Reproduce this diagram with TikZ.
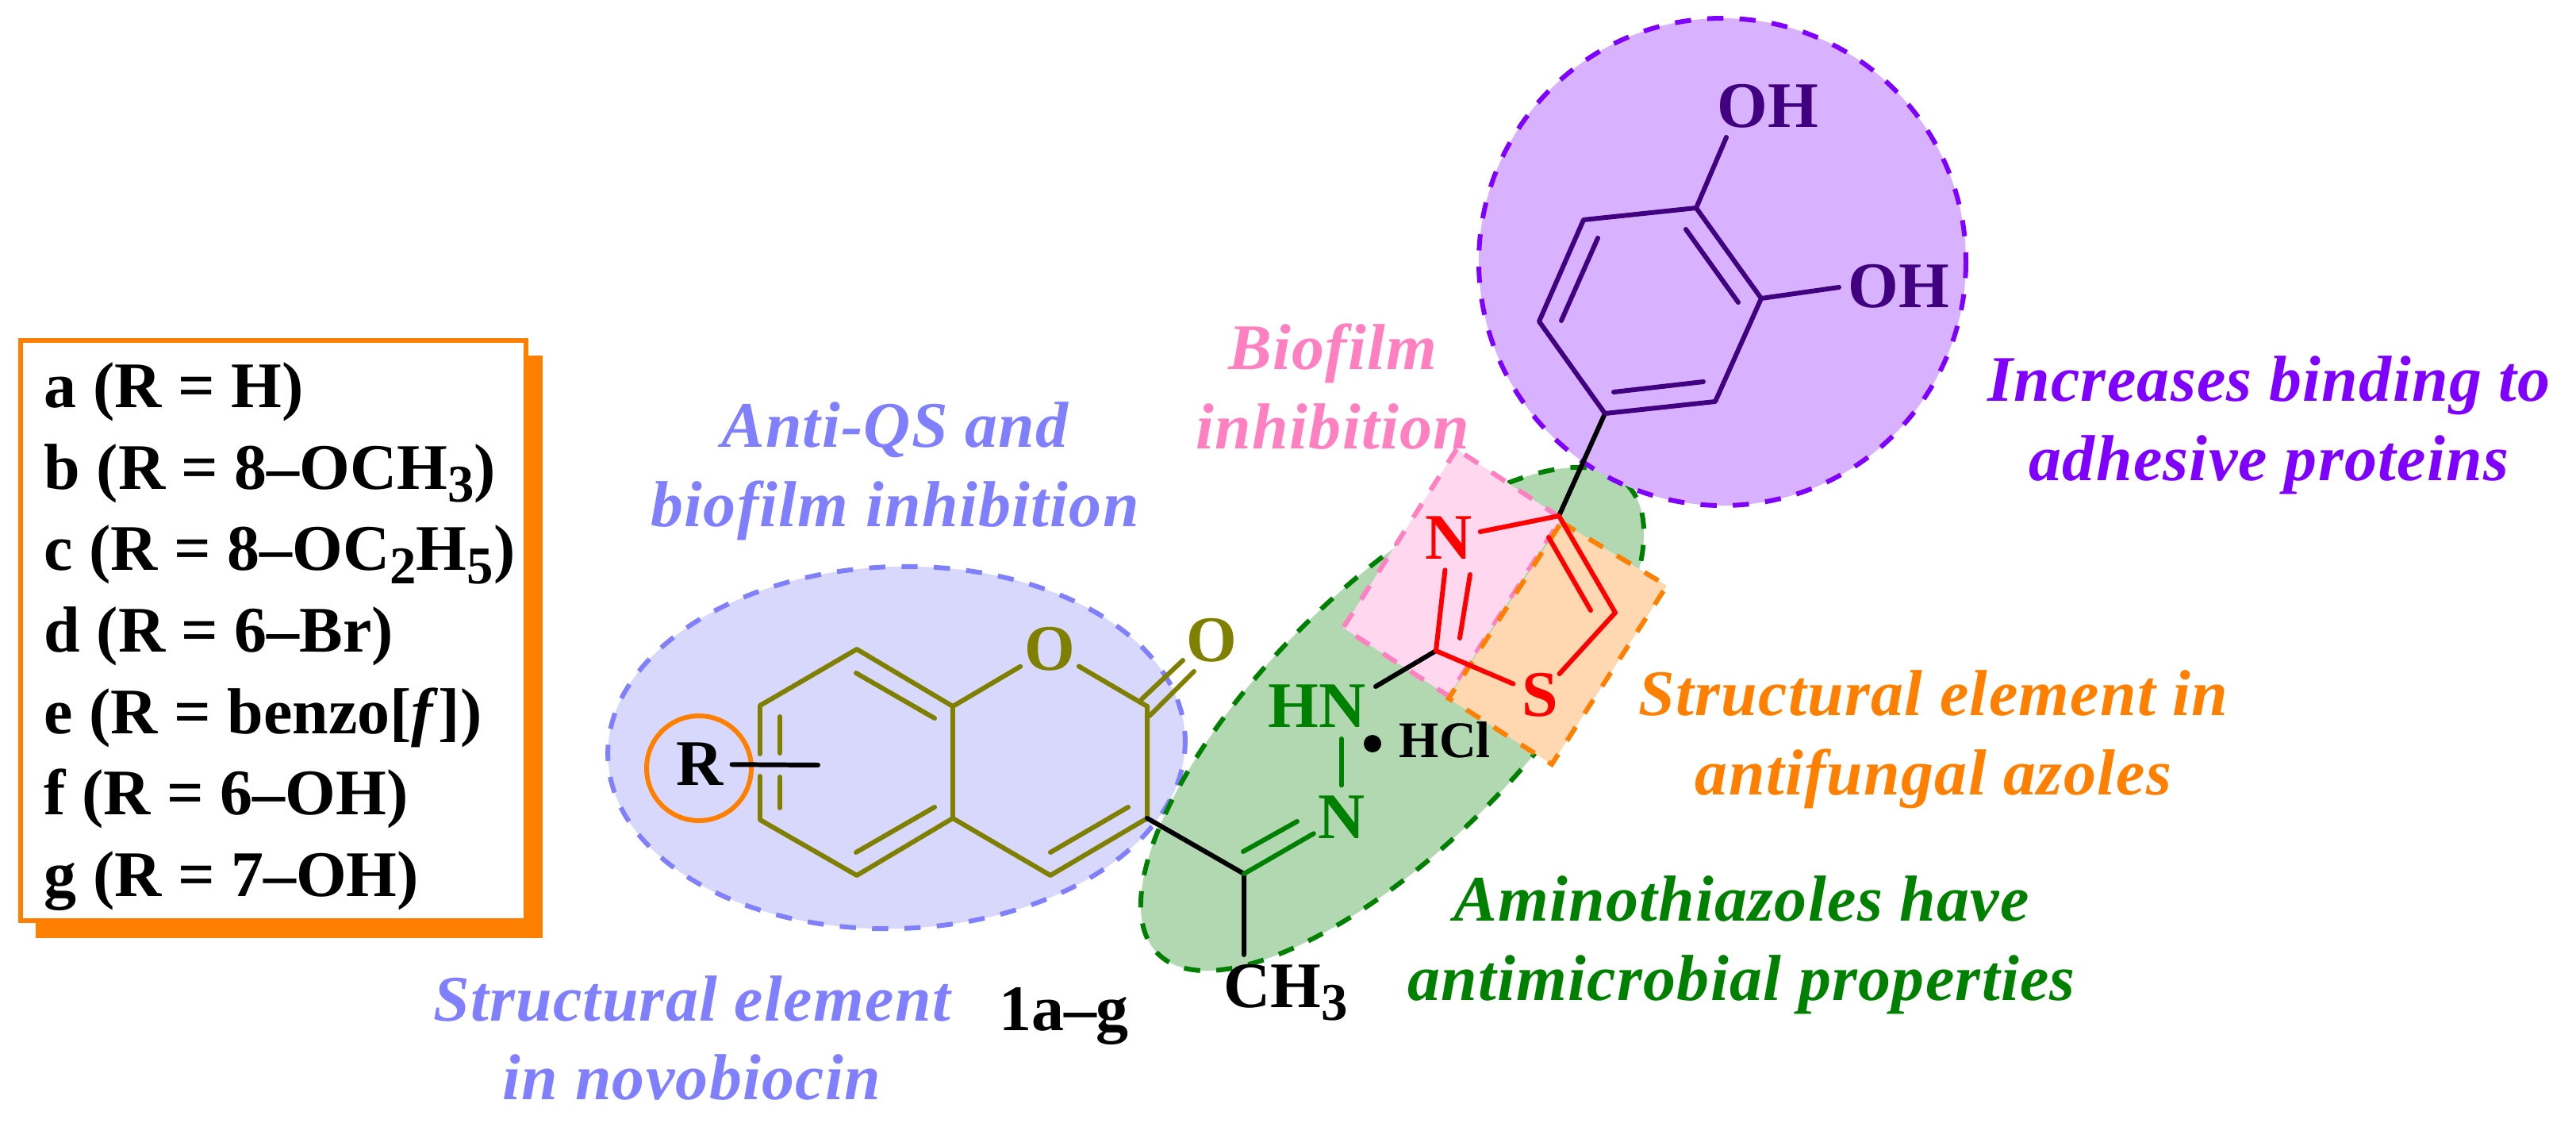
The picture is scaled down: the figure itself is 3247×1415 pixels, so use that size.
\documentclass[tikz,border=0pt]{standalone}
\usepackage{fontspec}
\setmainfont{Liberation Serif}
\usetikzlibrary{calc}
\definecolor{qsblue}{HTML}{8080FF}
\definecolor{qsfill}{HTML}{D8D8FC}
\definecolor{azgreen}{HTML}{008000}
\definecolor{azfill}{HTML}{B2D8B2}
\definecolor{bfpink}{HTML}{FF80C0}
\definecolor{bffill}{HTML}{FFD8EF}
\definecolor{fgorange}{HTML}{FF8000}
\definecolor{fgfill}{HTML}{FFD8B2}
\definecolor{adpurple}{HTML}{8000FF}
\definecolor{adfill}{HTML}{D8B2FF}
\definecolor{catechol}{HTML}{400080}
\definecolor{coumarin}{HTML}{808000}
\newcommand{\subnum}[1]{\raisebox{-0.2em}{\fontsize{19}{19}\selectfont #1}}
\tikzset{
    region/.style={line width=1.7pt,dash pattern=on 5.8pt off 5.8pt},
    bond/.style={line width=1.7pt,line cap=round,line join=round},
    atom/.style={circle,inner sep=0pt,font=\bfseries\fontsize{23.3}{28.3}\selectfont},
    molname/.style={inner sep=0pt,font=\bfseries\fontsize{23.3}{28.3}\selectfont},
    remark/.style={inner sep=0pt,align=center,font=\bfseries\itshape\fontsize{23.3}{28.3}\selectfont\addfontfeature{LetterSpace=1.6}}
}
\begin{document}
\begin{tikzpicture}[x=0.01cm,y=-0.01cm]
    \useasboundingbox (0,0) rectangle (3247,1415);
    \fill[fgorange] (45,448) rectangle (684,1182);
    \draw[fgorange,fill=white,line width=1.7pt] (26,429) rectangle (663,1160);
    \node[molname,anchor=west,align=left,font=\bfseries\fontsize{23.3}{29.2}\selectfont] (rlist) at (55,802) {a (R = H)\\
        b (R = 8–OCH\subnum{3})\\
        c (R = 8–OC\subnum{2}H\subnum{5})\\
        d (R = 6–Br)\\
        e (R = benzo[\textit{f}])\\
        f (R = 6–OH)\\
        g (R = 7–OH)};
    \draw[qsblue,fill=qsfill,region,rotate around={2:(1130,942)}] (1130,942) ellipse (364 and 228);
    \draw[azgreen,fill=azfill,region,rotate around={45:(1755,906)}] (1755,906) ellipse (418 and 162);
    \draw[adpurple,fill=adfill,region] (2171,330) circle (307);
    \coordinate (pk1) at (1836,566);
    \coordinate (pk2) at (1693,791);
    \coordinate (pk3) at (1826,877);
    \coordinate (pk4) at (1968,653);
    \coordinate (og1) at (1968,658);
    \coordinate (og2) at (2101,738);
    \coordinate (og3) at (1956,963);
    \coordinate (og4) at (1826,880);
    \draw[bfpink,fill=bffill,region] (pk1) -- (pk2) -- (pk3) -- (pk4) -- cycle;
    \draw[fgorange,fill=fgfill,region] (og1) -- (og2) -- (og3) -- (og4) -- cycle;
    \draw[fgorange,line width=1.7pt] (881,968) circle (66);
    \coordinate (c4a) at (1080,818);
    \coordinate (c8a) at (1201,890);
    \coordinate (c4b) at (1201,1031);
    \coordinate (c5) at (1080,1103);
    \coordinate (c6) at (958,1033);
    \coordinate (c7) at (958,889);
    \coordinate (c4) at (1324,1103);
    \coordinate (c3) at (1446,1031);
    \coordinate (c2) at (1446,890);
    \coordinate (c6t) at (958,950);
    \coordinate (c6b) at (958,978);
    \coordinate (rend) at (1031,964);
    \coordinate (imc) at (1568,1101);
    \coordinate (tzc2) at (1810,820);
    \coordinate (tzc4) at (1965,650);
    \coordinate (tzc5) at (2036,772);
    \coordinate (pha) at (2023,521);
    \coordinate (phb) at (2162,506);
    \coordinate (phc) at (2220,376);
    \coordinate (phd) at (2138,262);
    \coordinate (phe) at (1996,277);
    \coordinate (phf) at (1940,405);
    \coordinate (hnend) at (1734,865);
    \coordinate (hnlow) at (1691,931);
    \coordinate (meend) at (1568,1203);
    \coordinate (oh1end) at (2176,173);
    \coordinate (oh2end) at (2318,362);
    \coordinate (o2a) at (1491,832);
    \coordinate (o2b) at (1505,846);
    \coordinate (c2a) at (1439,881);
    \coordinate (c2b) at (1449,902);
    \node[atom,text=coumarin] (o1) at (1323,818) {O};
    \node[atom,text=coumarin] (o2) at (1527,807) {O};
    \node[atom] (rgroup) at (882,963) {R};
    \node[atom,text=red] (tzn) at (1826,678) {N};
    \node[atom,text=red] (tzs) at (1941,876) {S};
    \node[atom,text=azgreen] (imn) at (1691,1030) {N};
    \node[molname,text=azgreen,anchor=base west] (hn) at (1598,916) {HN};
    \node[molname,anchor=base west] (ch3) at (1542,1269) {CH\subnum{3}};
    \node[molname,text=catechol,anchor=base west] (oh1) at (2164,160) {OH};
    \node[molname,text=catechol,anchor=base west] (oh2) at (2329,387) {OH};
    \node[molname,anchor=base west,font=\bfseries\fontsize{18.4}{20}\selectfont] (hcl) at (1763,954) {HCl};
    \node[molname] (mol) at (1341,1280) {1a–g};
    \fill (1730,937) circle (11);
    \draw[coumarin,bond] (c8a) -- (c4a) -- (c7) -- (c6t);
    \draw[coumarin,bond] (c6b) -- (c6) -- (c5) -- (c4b) -- (c8a);
    \draw[coumarin,bond] (c4b) -- (c4) -- (c3) -- (c2);
    \draw[coumarin,bond] (c8a) -- (o1) -- (c2);
    \draw[coumarin,bond] (c2a) -- (o2a);
    \draw[coumarin,bond] (c2b) -- (o2b);
    \foreach \xa/\ya/\xb/\yb in {1079/848/1178/905,1178/1017/1079/1074,1324/1074/1422/1017,983/903/983/949,983/979/983/1018}{
        \draw[coumarin,bond] (\xa,\ya) -- (\xb,\yb);
    }
    \draw[bond] (rgroup) -- (rend);
    \draw[bond] (c3) -- (imc) -- (meend);
    \draw[azgreen,bond] (imc) -- (imn);
    \draw[azgreen,bond] (1567,1073) -- (1635,1035);
    \draw[azgreen,bond] (hnlow) -- (imn);
    \draw[bond] (tzc2) -- (hnend);
    \draw[bond] (tzc4) -- (pha);
    \draw[red,bond] (tzc2) -- (tzn) -- (tzc4) -- (tzc5) -- (tzs) -- (tzc2);
    \draw[red,bond] (1840,804) -- (1853,724);
    \draw[red,bond] (1952,677) -- (2005,769);
    \draw[catechol,bond] (pha) -- (phb) -- (phc) -- (phd) -- (phe) -- (phf) -- cycle;
    \draw[catechol,bond] (phd) -- (oh1end);
    \draw[catechol,bond] (phc) -- (oh2end);
    \foreach \xa/\ya/\xb/\yb in {2034/494/2147/481,2191/381/2125/289,2014/300/1968/404}{
        \draw[catechol,bond] (\xa,\ya) -- (\xb,\yb);
    }
    \node[remark,text=qsblue] (antiqs) at (1128,594) {Anti-QS and\\biofilm inhibition};
    \node[remark,text=bfpink] (biofilm) at (1680,487) {Biofilm\\inhibition};
    \node[remark,text=adpurple] (binding) at (2860,536) {Increases binding to\\adhesive proteins};
    \node[remark,text=fgorange] (azoles) at (2437,932) {Structural element in\\antifungal azoles};
    \node[remark,text=azgreen] (amino) at (2195,1191) {Aminothiazoles have\\antimicrobial properties};
    \node[remark,text=qsblue] (novo) at (872,1308) {Structural element\\in novobiocin};
\end{tikzpicture}
\end{document}
